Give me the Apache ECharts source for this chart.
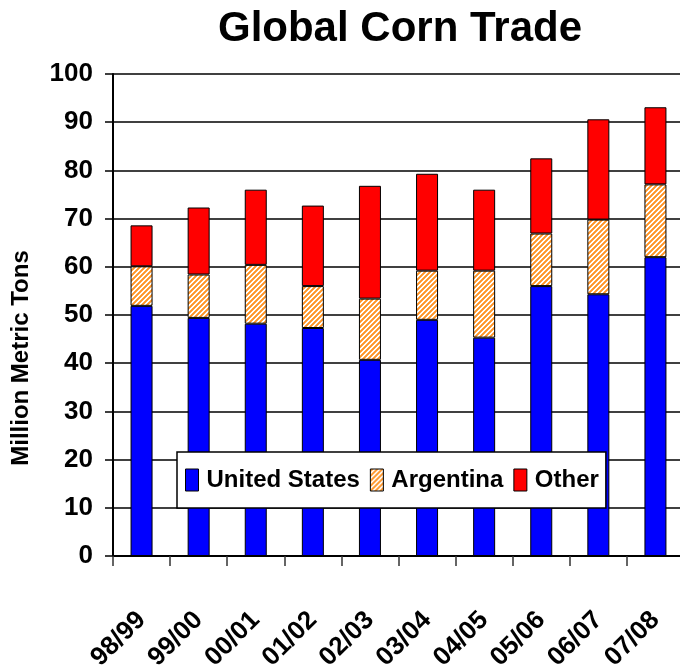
<!DOCTYPE html>
<html>
<head>
<meta charset="utf-8">
<script src="https://cdn.jsdelivr.net/npm/echarts@6/dist/echarts.min.js"></script>
<style>
html,body{margin:0;padding:0;background:#fff;}
#chart{width:680px;height:672px;}
</style>
</head>
<body>
<div id="chart"></div>
<script>
const categories = ['98/99','99/00','00/01','01/02','02/03','03/04','04/05','05/06','06/07','07/08'];
const unitedStates = [51.9, 49.4, 48.2, 47.3, 40.7, 49.0, 45.3, 56.0, 54.3, 62.0];
const argentina    = [8.2, 9.0, 12.2, 8.7, 12.7, 10.2, 13.9, 10.9, 15.5, 15.1];
const other        = [8.5, 13.9, 15.6, 16.7, 23.4, 20.1, 16.8, 15.6, 20.8, 16.0];
const seriesNames  = ['United States', 'Argentina', 'Other'];
const yTicks = { min: 0, max: 100, interval: 10 };

const wide = "'Liberation Sans',Arial,sans-serif";

function stripePattern() {
  const n = 5;
  const c = document.createElement('canvas');
  c.width = n; c.height = n;
  const ctx = c.getContext('2d');
  ctx.fillStyle = '#ffffff';
  ctx.fillRect(0, 0, n, n);
  for (let x = 0; x < n; x++) {
    for (let y = 0; y < n; y++) {
      const k = (x + y) % n;
      if (k < 3) { ctx.fillStyle = k === 1 ? '#FF9326' : '#FFA647'; ctx.fillRect(x, y, 1, 1); }
    }
  }
  return { image: c, repeat: 'repeat' };
}

const chart = echarts.init(document.getElementById('chart'), null, { renderer: 'canvas' });
const barCommon = { type: 'bar', stack: 'total', barWidth: 22 };

chart.setOption({
  animation: false,
  backgroundColor: '#ffffff',
  title: {
    text: 'Global Corn Trade',
    left: 395,
    textAlign: 'center',
    top: 3,
    textStyle: { fontFamily: wide, fontWeight: 'bold', fontSize: 42, color: '#000' }
  },
  grid: { left: 113, top: 74, right: -4, bottom: 116, containLabel: false, outerBoundsMode: 'none' },
  legend: {
    data: seriesNames,
    left: 177,
    top: 452,
    orient: 'horizontal',
    backgroundColor: '#ffffff',
    borderColor: '#000',
    borderWidth: 1.5,
    borderRadius: 0,
    padding: [16, 7, 16, 8],
    itemGap: 10,
    itemWidth: 13,
    itemHeight: 22,
    icon: 'rect',
    itemStyle: { borderColor: '#000', borderWidth: 1 },
    textStyle: { fontFamily: wide, fontWeight: 'bold', fontSize: 24, color: '#000', padding: [0, 0, 0, 3] }
  },
  xAxis: {
    type: 'category',
    data: categories,
    boundaryGap: true,
    axisLine: { show: true, lineStyle: { color: '#000', width: 2 } },
    axisTick: { show: true, length: 10, lineStyle: { color: '#333', width: 1.5 } },
    axisLabel: {
      rotate: 45,
      margin: 60,
      interval: 0,
      fontFamily: wide, fontWeight: 'bold', fontSize: 26, color: '#000'
    },
    splitLine: { show: false }
  },
  yAxis: {
    type: 'value',
    min: yTicks.min,
    max: yTicks.max,
    interval: yTicks.interval,
    name: 'Million Metric Tons',
    nameLocation: 'middle',
    nameGap: 80,
    nameRotate: 90,
    nameTextStyle: { fontFamily: wide, fontWeight: 'bold', fontSize: 24, color: '#000', padding: [0, 86, 0, 0] },
    axisLine: { show: true, lineStyle: { color: '#000', width: 2 } },
    axisTick: { show: true, length: 8, lineStyle: { color: '#000', width: 1.5 } },
    axisLabel: { margin: 20, fontFamily: wide, fontWeight: 'bold', fontSize: 26, color: '#000' },
    splitLine: { show: true, lineStyle: { color: '#000', width: 1.5 } }
  },
  series: [
    Object.assign({}, barCommon, {
      name: seriesNames[0], data: unitedStates,
      itemStyle: { color: '#0000FF', borderColor: '#000', borderWidth: 1 }
    }),
    Object.assign({}, barCommon, {
      name: seriesNames[1], data: argentina,
      itemStyle: { color: stripePattern(), borderColor: '#000', borderWidth: 1 }
    }),
    Object.assign({}, barCommon, {
      name: seriesNames[2], data: other,
      itemStyle: { color: '#FF0000', borderColor: '#000', borderWidth: 1 }
    })
  ]
});
</script>
</body>
</html>
